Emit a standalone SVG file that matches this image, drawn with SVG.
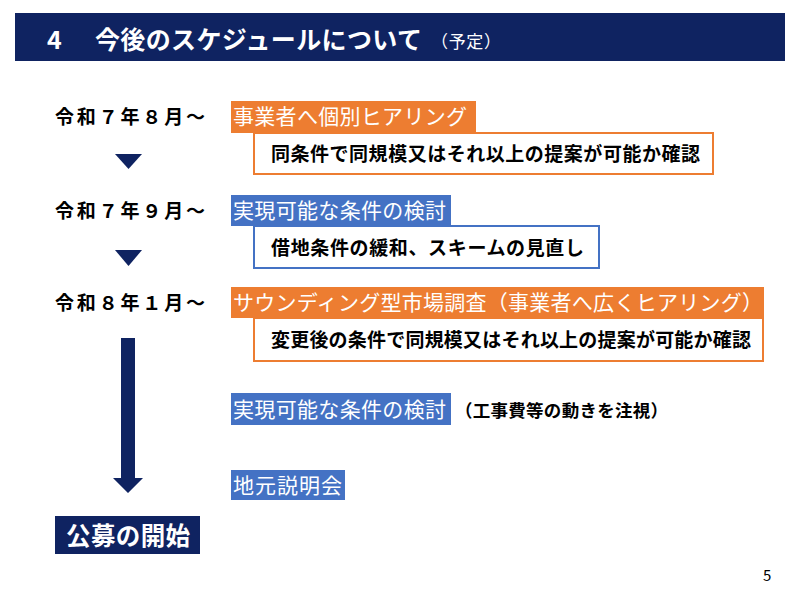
<svg xmlns="http://www.w3.org/2000/svg" width="800" height="593" viewBox="0 0 800 593">
<style>
text{font-family:"Noto Sans CJK JP","Noto Sans",sans-serif;}
.title{fill:#fff;font-weight:bold;font-size:25px;}
.date{fill:#000;font-weight:bold;font-size:19px;}
.lbl{fill:#fff;font-size:21px;}
.sub{fill:#000;font-weight:bold;font-size:19px;}
.or{fill:#ED7D31;}
.bl{fill:#4472C4;}
.orb{fill:#fff;stroke:#ED7D31;stroke-width:2;}
.blb{fill:#fff;stroke:#4472C4;stroke-width:2;}
.navy{fill:#0F2361;}
</style>
<rect width="800" height="593" fill="#fff"/>
<g id="title">
<rect x="15" y="13" width="770" height="48" class="navy"/>
<text x="47" y="49" class="title" font-size="26">4</text>
<text x="95" y="49" class="title" textLength="327" lengthAdjust="spacing">今後のスケジュールについて</text>
<text x="431" y="48" fill="#fff" font-size="17" textLength="70" lengthAdjust="spacing">（予定）</text>
</g>
<g id="row1">
<text x="55" y="124" class="date" textLength="150" lengthAdjust="spacing">令和７年８月～</text>
<rect x="231" y="101" width="245" height="32" class="or"/>
<text x="233" y="124" class="lbl" textLength="234" lengthAdjust="spacing">事業者へ個別ヒアリング</text>
<rect x="254" y="133" width="459" height="41" class="orb"/>
<text x="271" y="161" class="sub" textLength="429" lengthAdjust="spacing">同条件で同規模又はそれ以上の提案が可能か確認</text>
</g>
<g id="row2">
<text x="55" y="218" class="date" textLength="150" lengthAdjust="spacing">令和７年９月～</text>
<rect x="231" y="195" width="220" height="31" class="bl"/>
<text x="233" y="218" class="lbl" textLength="213" lengthAdjust="spacing">実現可能な条件の検討</text>
<rect x="254" y="226" width="345" height="42" class="blb"/>
<text x="271" y="255" class="sub" textLength="313" lengthAdjust="spacing">借地条件の緩和、スキームの見直し</text>
</g>
<g id="row3">
<text x="55" y="310" class="date" textLength="150" lengthAdjust="spacing">令和８年１月～</text>
<rect x="231" y="287" width="533" height="31" class="or"/>
<text x="233" y="310" class="lbl" textLength="530" lengthAdjust="spacing">サウンディング型市場調査（事業者へ広くヒアリング）</text>
<rect x="254" y="318" width="509" height="43" class="orb"/>
<text x="271" y="347" class="sub" textLength="480" lengthAdjust="spacing">変更後の条件で同規模又はそれ以上の提案が可能か確認</text>
</g>
<g id="review">
<rect x="231" y="393" width="220" height="32" class="bl"/>
<text x="233" y="417" class="lbl" textLength="213" lengthAdjust="spacing">実現可能な条件の検討</text>
<text x="455" y="417" fill="#000" font-weight="bold" font-size="17.5" textLength="213" lengthAdjust="spacing">（工事費等の動きを注視）</text>
</g>
<g id="briefing">
<rect x="231" y="470" width="114" height="30" class="bl"/>
<text x="233" y="493" class="lbl" textLength="109" lengthAdjust="spacing">地元説明会</text>
</g>
<g id="start">
<rect x="55" y="516" width="145" height="38" class="navy"/>
<text x="66" y="545" fill="#fff" font-weight="bold" font-size="24.5" textLength="124" lengthAdjust="spacing">公募の開始</text>
</g>
<g id="connectors">
<polygon points="115,154 142,154 128.5,169" class="navy"/>
<polygon points="115,250 142,250 128.5,266" class="navy"/>
<polygon points="121,338 135,338 135,478 143,478 128,493 113,478 121,478" class="navy"/>
</g>
<text x="763" y="581" fill="#000" font-family="Liberation Sans,sans-serif" font-size="15">5</text>
</svg>
